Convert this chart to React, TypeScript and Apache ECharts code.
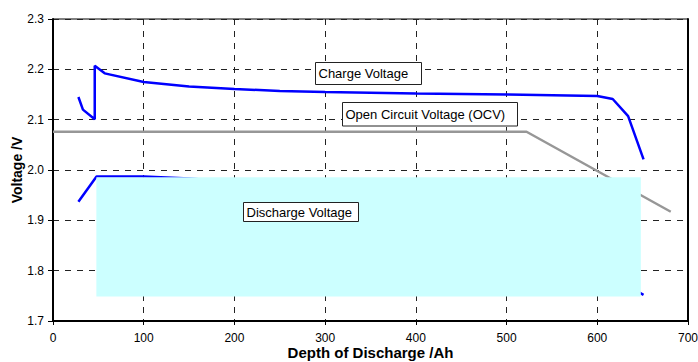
import React, { useEffect, useRef } from "react";
import * as echarts from "echarts";

// Depth of discharge (Ah) and voltages (V)
const chargeAh = [28, 33, 46, 46, 57, 100, 150, 200, 250, 300, 400, 500, 600, 617, 634, 651];
const chargeV = [2.145, 2.12, 2.101, 2.207, 2.192, 2.175, 2.166, 2.161, 2.157, 2.155, 2.152, 2.15, 2.147, 2.141, 2.107, 2.021];

const ocvAh = [0, 522, 681];
const ocvV = [2.076, 2.076, 1.917];

const dischargeAh = [28, 48, 100, 150, 200, 300, 400, 500, 560, 600, 620, 635, 643, 646, 651];
const dischargeV = [1.937, 1.987, 1.987, 1.983, 1.976, 1.972, 1.966, 1.958, 1.946, 1.93, 1.89, 1.82, 1.77, 1.757, 1.752];

// Light-cyan overlay panel (data extents)
const panelAh = [47.8, 648];
const panelV = [1.9855, 1.7485];

const xTicks = { min: 0, max: 700, interval: 100 };
const yTicks = { min: 1.7, max: 2.3, interval: 0.1 };

const FONT = "'Liberation Sans', Arial, Helvetica, sans-serif";

const pairs = (xs: number[], ys: number[]) => xs.map((x, i) => [x, ys[i]]);

export default function App() {
  const ref = useRef<HTMLDivElement>(null);

  useEffect(() => {
    if (!ref.current) return;
    const chart = echarts.init(ref.current, undefined, { renderer: "svg" });
    const splitLine = {
      show: true,
      lineStyle: { color: "#222", width: 1, type: [6, 6] as any },
    };
    const labelBox = (x: number, y: number, w: number, h: number, text: string) => ({
      type: "group",
      z: 100,
      children: [
        {
          type: "rect",
          z: 100,
          shape: { x, y, width: w, height: h },
          style: { fill: "#fff", stroke: "#222", lineWidth: 1 },
        },
        {
          type: "text",
          z: 101,
          x: x + 3,
          y: y + h / 2,
          style: {
            text,
            fill: "#000",
            font: `13px ${FONT}`,
            verticalAlign: "middle",
            align: "left",
          },
        },
      ],
    });

    chart.setOption({
      animation: false,
      backgroundColor: "#fff",
      textStyle: { fontFamily: FONT },
      grid: {
        left: 53,
        top: 19,
        right: 10,
        bottom: 41,
        containLabel: false,
        outerBoundsMode: "none",
        show: true,
        borderColor: "#000",
        borderWidth: 1,
        backgroundColor: "transparent",
      },
      xAxis: {
        type: "value",
        ...xTicks,
        name: "Depth of Discharge /Ah",
        nameLocation: "middle",
        nameGap: 24,
        nameMoveOverlap: false,
        nameTextStyle: { fontSize: 15, fontWeight: "bold", color: "#000", fontFamily: FONT },
        axisLine: { show: true, onZero: false, lineStyle: { color: "#000", width: 2 } },
        axisTick: { show: true, length: 4, lineStyle: { color: "#000" } },
        axisLabel: { color: "#000", fontSize: 12, margin: 11, fontFamily: FONT },
        splitLine,
      },
      yAxis: [
        {
          type: "value",
          ...yTicks,
          name: "Voltage /V",
          nameLocation: "middle",
          nameGap: 29,
          nameMoveOverlap: false,
          nameTextStyle: { fontSize: 14, fontWeight: "bold", color: "#000", fontFamily: FONT },
          axisLine: { show: true, onZero: false, lineStyle: { color: "#000", width: 2 } },
          axisTick: { show: true, length: 5, lineStyle: { color: "#000" } },
          axisLabel: {
            color: "#000",
            fontSize: 12,
            margin: 9,
            fontFamily: FONT,
            formatter: (v: number) => v.toFixed(1),
          },
          splitLine,
        },
        {
          type: "value",
          ...yTicks,
          position: "right",
          axisLine: { show: true, onZero: false, lineStyle: { color: "#000", width: 2 } },
          axisTick: { show: false },
          axisLabel: { show: false },
          splitLine: { show: false },
        },
      ],
      series: [
        {
          name: "Open Circuit Voltage (OCV)",
          type: "line",
          data: pairs(ocvAh, ocvV),
          showSymbol: false,
          symbol: "none",
          lineStyle: { color: "#979797", width: 2.5 },
          z: 3,
        },
        {
          name: "Charge Voltage",
          type: "line",
          data: pairs(chargeAh, chargeV),
          showSymbol: false,
          symbol: "none",
          lineStyle: { color: "#0000ff", width: 2.5 },
          z: 4,
        },
        {
          name: "Discharge Voltage",
          type: "line",
          data: pairs(dischargeAh, dischargeV),
          showSymbol: false,
          symbol: "none",
          lineStyle: { color: "#0000ff", width: 2.5 },
          z: 4,
        },
        {
          name: "panel",
          type: "custom",
          z: 10,
          silent: true,
          clip: false,
          dimensions: ["x0", "y0", "x1", "y1"],
          encode: { x: [0, 2], y: [1, 3] },
          data: [[panelAh[0], panelV[0], panelAh[1], panelV[1]]],
          renderItem: (_params: any, api: any) => {
            const p0 = api.coord([api.value(0), api.value(1)]);
            const p1 = api.coord([api.value(2), api.value(3)]);
            return {
              type: "rect",
              shape: { x: p0[0], y: p0[1], width: p1[0] - p0[0], height: p1[1] - p0[1] },
              style: { fill: "#ccffff" },
            };
          },
        },
      ],
      graphic: {
        elements: [
          labelBox(315.5, 62.5, 106, 22, "Charge Voltage"),
          labelBox(342.5, 102.5, 175, 23.5, "Open Circuit Voltage (OCV)"),
          labelBox(243.5, 202.5, 115, 19, "Discharge Voltage"),
        ],
      },
    });
    return () => chart.dispose();
  }, []);

  return (
    <div
      ref={ref}
      style={{ position: "fixed", left: 0, top: 0, width: 698, height: 362, background: "#fff" }}
    />
  );
}
